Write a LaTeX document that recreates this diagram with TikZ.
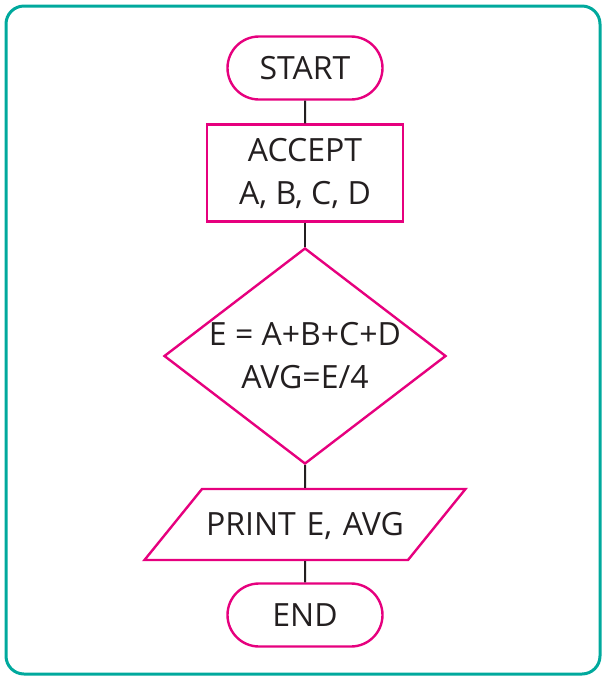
\documentclass[tikz,border=0pt]{standalone}
\usepackage{fontspec}
\setmainfont{Open Sans}
\usetikzlibrary{shapes.geometric,shapes.misc}
\definecolor{flowpink}{HTML}{E6007E}
\definecolor{frameteal}{HTML}{00A99D}
\definecolor{inkgray}{HTML}{231F20}
\begin{document}
\begin{tikzpicture}[x=0.5pt,y=-0.5pt,
 box/.style ={draw=flowpink,line width=1.2pt,text=inkgray,align=center,inner sep=0pt,font=\fontsize{16}{21.5}\selectfont},
 term/.style ={box,rounded rectangle,minimum width=77.5pt,minimum height=31.5pt},
 link/.style ={line width=1pt,draw=inkgray}]

\useasboundingbox (0,0) rectangle (602,676);
\draw [frameteal,line width=1.5pt,rounded corners=9pt] (6,6) rectangle (600,674);

\node[term] (start) at (305,68) {START};
\node[box,minimum width=98pt,minimum height=48.5pt] (accept) at (305,173) {ACCEPT\\A, B, C, D};
\node[box,diamond,shape aspect=1.306,minimum width=141pt,minimum height=108pt] (calc) at (305,356) {E = A+B+C+D\\AVG=E/4};
\node[box,trapezium,trapezium left angle=51,trapezium right angle=129,
      text width=103pt,text height=23.3pt,text depth=12.2pt] (print) at (305,524.5) {PRINT E, AVG};
\node[term] (end) at (305,615) {END};

%connectors
\draw [link] (start) -- (accept);
\draw [link] (accept) -- (calc);
\draw [link] (calc) -- (print);
\draw [link] (print) -- (end);
\end{tikzpicture}
\end{document}
